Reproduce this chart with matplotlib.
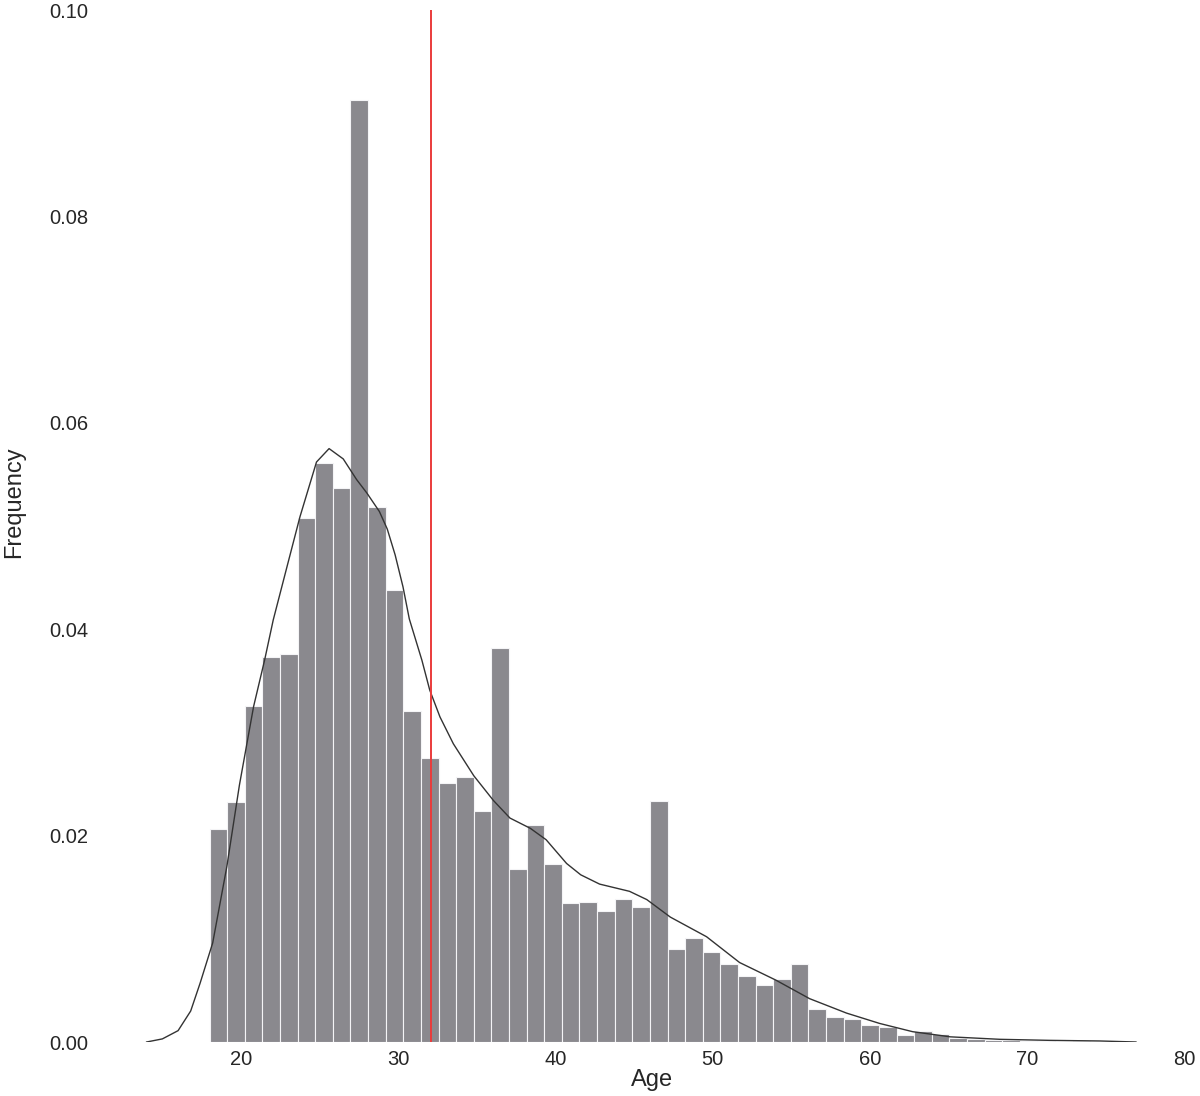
import numpy as np
import matplotlib
matplotlib.use('Agg')
import matplotlib.pyplot as plt

# Histogram of ages (density), 50 bins from 18 to 74
age_min = 18
age_max = 74
n_bins = 50
density = [0.0206, 0.0233, 0.0326, 0.0373, 0.0376, 0.0508, 0.0561, 0.0537, 0.0913, 0.0518,
           0.0438, 0.0321, 0.0275, 0.0251, 0.0257, 0.0224, 0.0382, 0.0168, 0.0210, 0.0172,
           0.0135, 0.0136, 0.0127, 0.0139, 0.0131, 0.0234, 0.0090, 0.0101, 0.0087, 0.0076,
           0.0064, 0.0055, 0.0061, 0.0076, 0.0032, 0.0024, 0.0022, 0.0016, 0.0015, 0.0007,
           0.0011, 0.0008, 0.0004, 0.0003, 0.0002, 0.0002, 0.0001, 0.0001, 0.0000, 0.0001]

# KDE curve
kde_x = [14.0, 15.0, 16.0, 16.8, 17.4, 18.2, 19.1, 19.9, 20.8, 21.5, 22.05, 23.0, 23.75,
         24.8, 25.6, 26.5, 27.35, 28.0, 28.8, 29.3, 29.8, 30.3, 30.7, 31.5, 32.0, 32.65,
         33.5, 34.8, 36.05, 37.1, 38.4, 39.4, 40.7, 41.6, 42.8, 44.7, 45.8, 47.3, 49.6,
         51.7, 54.0, 56.15, 58.5, 60.6, 62.7, 65.1, 68.25, 71.4, 74.6, 76.9]
kde_y = [0.0000, 0.0003, 0.0011, 0.0030, 0.0057, 0.0096, 0.0170, 0.0249, 0.0325, 0.0370,
         0.0409, 0.0465, 0.0509, 0.0562, 0.0575, 0.0565, 0.0545, 0.0532, 0.0514, 0.0497,
         0.0472, 0.0441, 0.0410, 0.0370, 0.0341, 0.0315, 0.0289, 0.0258, 0.0234, 0.0217,
         0.0207, 0.0196, 0.0173, 0.0162, 0.0153, 0.0146, 0.0138, 0.0121, 0.0102, 0.0077,
         0.0060, 0.0042, 0.0028, 0.0018, 0.0010, 0.0005, 0.00026, 0.00016, 0.0001, 0.0000]

mean_age = 32.05

plt.rcParams['font.family'] = ['Liberation Sans', 'DejaVu Sans']

fig = plt.figure(figsize=(12, 10.96), dpi=100)
ax = fig.add_axes([113.6 / 1200, 54 / 1096, (1191 - 113.6) / 1200, 1032 / 1096])

# Bars
edges = np.linspace(age_min, age_max, n_bins + 1)
ax.bar(edges[:-1], density, width=np.diff(edges), align='edge',
       color='#8a898e', edgecolor='#f4f4f6', linewidth=0.8)

# KDE line and mean line
ax.plot(kde_x, kde_y, color='#333333', linewidth=1.0)
ax.axvline(mean_age, color='#ea3b3b', linewidth=1.4)

ax.set_xlim(11.9, 80.4)
ax.set_ylim(0, 0.10)
ax.set_yticks([0.00, 0.02, 0.04, 0.06, 0.08, 0.10])
ax.set_yticklabels(['0.00', '0.02', '0.04', '0.06', '0.08', '0.10'])
ax.set_xticks([20, 30, 40, 50, 60, 70, 80])

for s in ax.spines.values():
    s.set_visible(False)
ax.tick_params(axis='both', length=0, labelsize=14.5, colors='#262626')
ax.tick_params(axis='y', pad=18)
ax.tick_params(axis='x', pad=6)

ax.set_xlabel('Age', fontsize=17, color='#262626')
ax.set_ylabel('Frequency', fontsize=17, color='#262626')
ax.xaxis.set_label_coords((652 - 113.6) / 1077.4, -27 / 1032)
ax.yaxis.set_label_coords((25 - 113.6) / 1077.4, (1042 - 502) / 1032)

fig.savefig('out.png', dpi=100)
